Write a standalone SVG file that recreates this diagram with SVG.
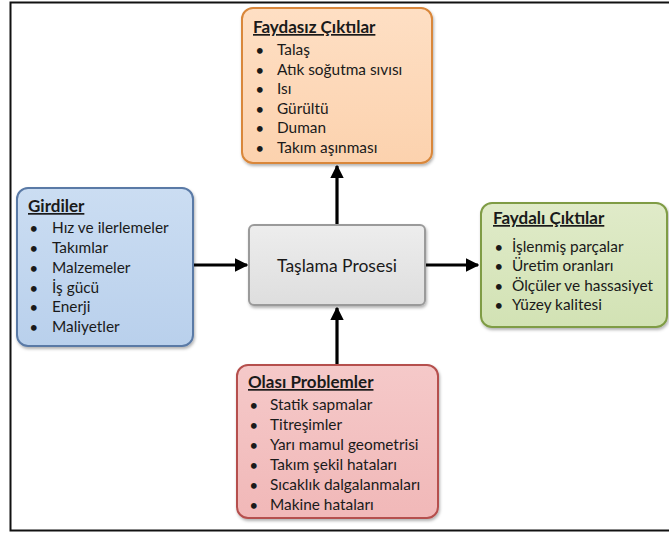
<svg xmlns="http://www.w3.org/2000/svg" width="669" height="534" viewBox="0 0 669 534">
  <defs>
    <linearGradient id="gOrange" x1="0" y1="0" x2="0" y2="1">
      <stop offset="0" stop-color="#FEDFC4"/>
      <stop offset="1" stop-color="#FCD2AE"/>
    </linearGradient>
    <linearGradient id="gBlue" x1="0" y1="0" x2="0" y2="1">
      <stop offset="0" stop-color="#CBDDF2"/>
      <stop offset="1" stop-color="#B9D0EC"/>
    </linearGradient>
    <linearGradient id="gGray" x1="0" y1="0" x2="0" y2="1">
      <stop offset="0" stop-color="#EDEDED"/>
      <stop offset="1" stop-color="#DEDEDE"/>
    </linearGradient>
    <linearGradient id="gGreen" x1="0" y1="0" x2="0" y2="1">
      <stop offset="0" stop-color="#E0EBC9"/>
      <stop offset="1" stop-color="#D2E2B4"/>
    </linearGradient>
    <linearGradient id="gRed" x1="0" y1="0" x2="0" y2="1">
      <stop offset="0" stop-color="#F5C9C9"/>
      <stop offset="1" stop-color="#F1B8B8"/>
    </linearGradient>
    <filter id="shadow" x="-10%" y="-10%" width="120%" height="125%">
      <feDropShadow dx="1" dy="2" stdDeviation="1.5" flood-color="#000" flood-opacity="0.3"/>
    </filter>
    <marker id="arrow" viewBox="0 0 10 10" refX="9" refY="5" markerWidth="4.2" markerHeight="4.2" orient="auto" markerUnits="strokeWidth">
      <path d="M0,0 L10,5 L0,10 z" fill="#000"/>
    </marker>
  </defs>
  <style>
    text { font-family: Lato, "Open Sans", "Liberation Sans", sans-serif; fill: #1a1a1a; }
    .title { font-size: 17px; font-weight: bold; text-decoration: underline; }
    .item { font-size: 15.4px; }
    .bullet { font-size: 13px; font-weight: bold; }
    .center { font-size: 17.5px; }
    .box { stroke-width: 2; filter: url(#shadow); }
    .conn { stroke: #000; stroke-width: 3.2; fill: none; marker-end: url(#arrow); }
  </style>

  <rect width="669" height="534" fill="#fff"/>
  <!-- outer frame -->
  <rect x="10.5" y="2.5" width="680" height="528" fill="none" stroke="#111" stroke-width="2"/>

  <!-- connectors -->
  <g id="connectors">
    <line class="conn" x1="193" y1="265" x2="247" y2="265"/>
    <line class="conn" x1="425" y1="265" x2="478" y2="265"/>
    <line class="conn" x1="337" y1="225" x2="337" y2="166"/>
    <line class="conn" x1="337" y1="364" x2="337" y2="308"/>
  </g>

  <!-- Faydasız Çıktılar -->
  <g id="faydasiz">
    <rect class="box" x="242" y="8" width="190" height="155" rx="11" fill="url(#gOrange)" stroke="#D9873A"/>
    <text class="title" x="253" y="33">Faydasız Çıktılar</text>
    <g class="bullet">
      <text x="256" y="55">•</text><text x="256" y="75">•</text><text x="256" y="94">•</text>
      <text x="256" y="114">•</text><text x="256" y="133">•</text><text x="256" y="153">•</text>
    </g>
    <g class="item">
      <text x="277" y="55">Talaş</text>
      <text x="277" y="75">Atık soğutma sıvısı</text>
      <text x="277" y="94">Isı</text>
      <text x="277" y="114">Gürültü</text>
      <text x="277" y="133">Duman</text>
      <text x="277" y="153">Takım aşınması</text>
    </g>
  </g>

  <!-- Girdiler -->
  <g id="girdiler">
    <rect class="box" x="17" y="188" width="176" height="158" rx="11" fill="url(#gBlue)" stroke="#5A7AA6"/>
    <text class="title" x="28" y="212">Girdiler</text>
    <g class="bullet">
      <text x="30" y="233">•</text><text x="30" y="253">•</text><text x="30" y="273">•</text>
      <text x="30" y="293">•</text><text x="30" y="312">•</text><text x="30" y="332">•</text>
    </g>
    <g class="item">
      <text x="52" y="233">Hız ve ilerlemeler</text>
      <text x="52" y="253">Takımlar</text>
      <text x="52" y="273">Malzemeler</text>
      <text x="52" y="293">İş gücü</text>
      <text x="52" y="312">Enerji</text>
      <text x="52" y="332">Maliyetler</text>
    </g>
  </g>

  <!-- Taşlama Prosesi -->
  <g id="proses">
    <rect class="box" x="249" y="225" width="176" height="80" rx="5" fill="url(#gGray)" stroke="#9A9A9A"/>
    <text class="center" x="337" y="272" text-anchor="middle">Taşlama Prosesi</text>
  </g>

  <!-- Faydalı Çıktılar -->
  <g id="faydali">
    <rect class="box" x="481" y="203" width="186" height="124" rx="11" fill="url(#gGreen)" stroke="#7F9C45"/>
    <text class="title" x="493" y="224">Faydalı Çıktılar</text>
    <g class="bullet">
      <text x="495" y="252">•</text><text x="495" y="271">•</text>
      <text x="495" y="291">•</text><text x="495" y="310">•</text>
    </g>
    <g class="item">
      <text x="512" y="252">İşlenmiş parçalar</text>
      <text x="512" y="271">Üretim oranları</text>
      <text x="512" y="291">Ölçüler ve hassasiyet</text>
      <text x="512" y="310">Yüzey kalitesi</text>
    </g>
  </g>

  <!-- Olası Problemler -->
  <g id="olasi">
    <rect class="box" x="237" y="365" width="201" height="153" rx="11" fill="url(#gRed)" stroke="#B5504D"/>
    <text class="title" x="248" y="388">Olası Problemler</text>
    <g class="bullet">
      <text x="250" y="410">•</text><text x="250" y="430">•</text><text x="250" y="450">•</text>
      <text x="250" y="470">•</text><text x="250" y="490">•</text><text x="250" y="510">•</text>
    </g>
    <g class="item">
      <text x="270" y="410">Statik sapmalar</text>
      <text x="270" y="430">Titreşimler</text>
      <text x="270" y="450">Yarı mamul geometrisi</text>
      <text x="270" y="470">Takım şekil hataları</text>
      <text x="270" y="490">Sıcaklık dalgalanmaları</text>
      <text x="270" y="510">Makine hataları</text>
    </g>
  </g>
</svg>
